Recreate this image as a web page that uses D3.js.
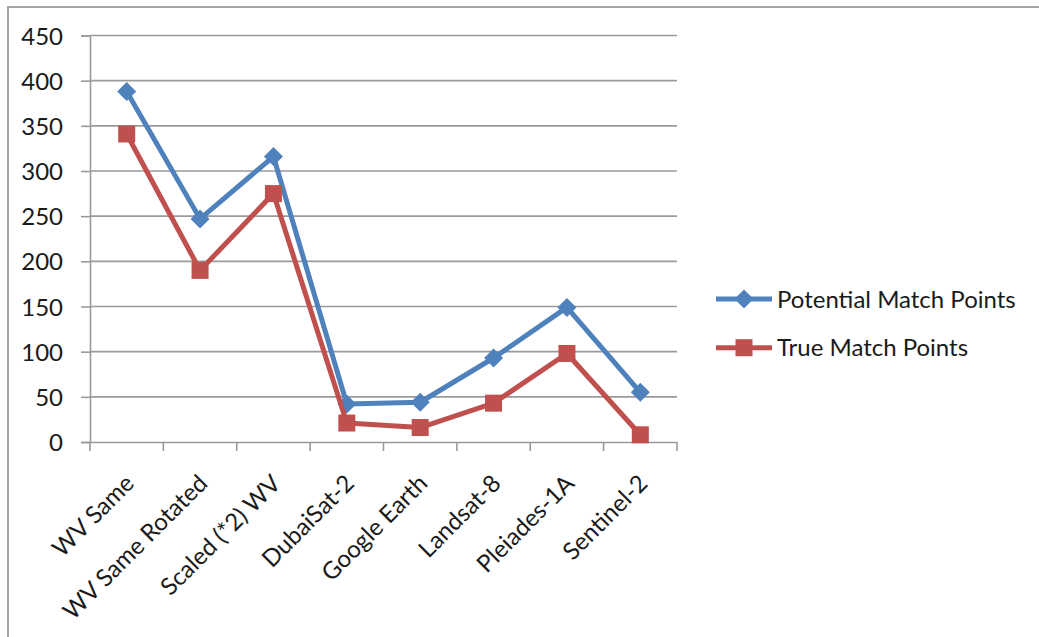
<!DOCTYPE html>
<html>
<head>
<meta charset="utf-8">
<script src="https://cdn.jsdelivr.net/npm/d3@7"></script>
<style>
  html, body { margin: 0; padding: 0; background: #fff; }
  svg { display: block; font-family: Lato, "Open Sans", sans-serif; }
</style>
</head>
<body>
<svg id="chart" width="1039" height="637"></svg>
<script>
// === Data ===
const categories = ['WV Same', 'WV Same Rotated', 'Scaled (*2) WV', 'DubaiSat-2',
  'Google Earth', 'Landsat-8', 'Pleiades-1A', 'Sentinel-2'];
const potentialPoints = [388, 247, 316, 42, 44, 93, 149, 55];
const truePoints = [341, 190, 275, 21, 16, 43, 98, 8];
const yTicks = [0, 50, 100, 150, 200, 250, 300, 350, 400, 450];

const series = [
  { name: 'Potential Match Points', values: potentialPoints, color: '#4F81BD', marker: 'diamond' },
  { name: 'True Match Points', values: truePoints, color: '#C0504D', marker: 'square' }
];

// === Layout ===
const plot = { left: 90, right: 677, top: 35.5, bottom: 442 };
const GRID = '#9a9a9a';
const FONT_SIZE = 24;

const svg = d3.select('#chart');

// outer chart border (only top/left visible in the frame)
svg.append('rect')
  .attr('x', 8).attr('y', 7)
  .attr('width', 1100).attr('height', 700)
  .attr('fill', 'none')
  .attr('stroke', '#a6a6a6')
  .attr('stroke-width', 2);

const x = d3.scaleBand().domain(categories).range([plot.left, plot.right]);
const y = d3.scaleLinear().domain([0, 450]).range([plot.bottom, plot.top]);

// --- Gridlines ---
svg.append('g')
  .selectAll('line')
  .data(yTicks.filter(t => t > 0))
  .join('line')
  .attr('x1', plot.left).attr('x2', plot.right)
  .attr('y1', d => y(d)).attr('y2', d => y(d))
  .attr('stroke', GRID)
  .attr('stroke-width', 1.6);

// --- Y axis ---
const yAxis = svg.append('g')
  .attr('transform', `translate(${plot.left},0)`)
  .call(d3.axisLeft(y).tickValues(yTicks).tickSize(9).tickPadding(18));
yAxis.select('.domain').attr('stroke', GRID).attr('stroke-width', 1.6);
yAxis.selectAll('.tick line').attr('stroke', GRID).attr('stroke-width', 1.6);
yAxis.selectAll('.tick text')
  .attr('font-size', FONT_SIZE)
  .attr('font-family', 'Lato, sans-serif')
  .attr('fill', '#1a1a1a')
  .attr('dy', '0.36em');

// --- X axis ---
const xAxis = svg.append('g')
  .attr('transform', `translate(0,${plot.bottom})`)
  .call(d3.axisBottom(x).tickSize(0).tickFormat(''));
xAxis.select('.domain').attr('stroke', GRID).attr('stroke-width', 1.6);

// tick marks at band boundaries
const bounds = categories.map(c => x(c)).concat([plot.right]);
svg.append('g')
  .selectAll('line')
  .data(bounds)
  .join('line')
  .attr('x1', d => d).attr('x2', d => d)
  .attr('y1', plot.bottom).attr('y2', plot.bottom + 9)
  .attr('stroke', GRID)
  .attr('stroke-width', 1.6);

// rotated category labels
svg.append('g')
  .selectAll('text')
  .data(categories)
  .join('text')
  .attr('transform', d => `translate(${x(d) + x.bandwidth() / 2 - 3},${plot.bottom + 31}) rotate(-45)`)
  .attr('text-anchor', 'end')
  .attr('dy', '0.7em')
  .attr('font-size', FONT_SIZE)
  .attr('fill', '#1a1a1a')
  .text(d => d);

// --- Lines + markers ---
const cx = d => x(d) + x.bandwidth() / 2;
const line = d3.line()
  .x((v, i) => cx(categories[i]))
  .y(v => y(v));

function drawMarker(g, type, color) {
  if (type === 'diamond') {
    g.append('path')
      .attr('d', 'M0,-9.5L9.5,0L0,9.5L-9.5,0Z')
      .attr('fill', color);
  } else {
    g.append('rect')
      .attr('x', -8.5).attr('y', -8.5)
      .attr('width', 17).attr('height', 17)
      .attr('fill', color);
  }
}

series.forEach(s => {
  svg.append('path')
    .datum(s.values)
    .attr('d', line)
    .attr('fill', 'none')
    .attr('stroke', s.color)
    .attr('stroke-width', 5)
    .attr('stroke-linejoin', 'round');

  svg.append('g')
    .selectAll('g')
    .data(s.values)
    .join('g')
    .attr('transform', (v, i) => `translate(${cx(categories[i])},${y(v)})`)
    .each(function () { drawMarker(d3.select(this), s.marker, s.color); });
});

// --- Legend ---
const legend = svg.append('g').attr('transform', 'translate(716,299)');
series.forEach((s, i) => {
  const item = legend.append('g').attr('transform', `translate(0,${i * 48.7})`);
  item.append('line')
    .attr('x1', 0).attr('x2', 56)
    .attr('stroke', s.color)
    .attr('stroke-width', 5);
  drawMarker(item.append('g').attr('transform', 'translate(28,0)'), s.marker, s.color);
  item.append('text')
    .attr('x', 61)
    .attr('dy', '0.36em')
    .attr('font-size', FONT_SIZE)
    .attr('fill', '#1a1a1a')
    .text(s.name);
});
</script>
</body>
</html>
